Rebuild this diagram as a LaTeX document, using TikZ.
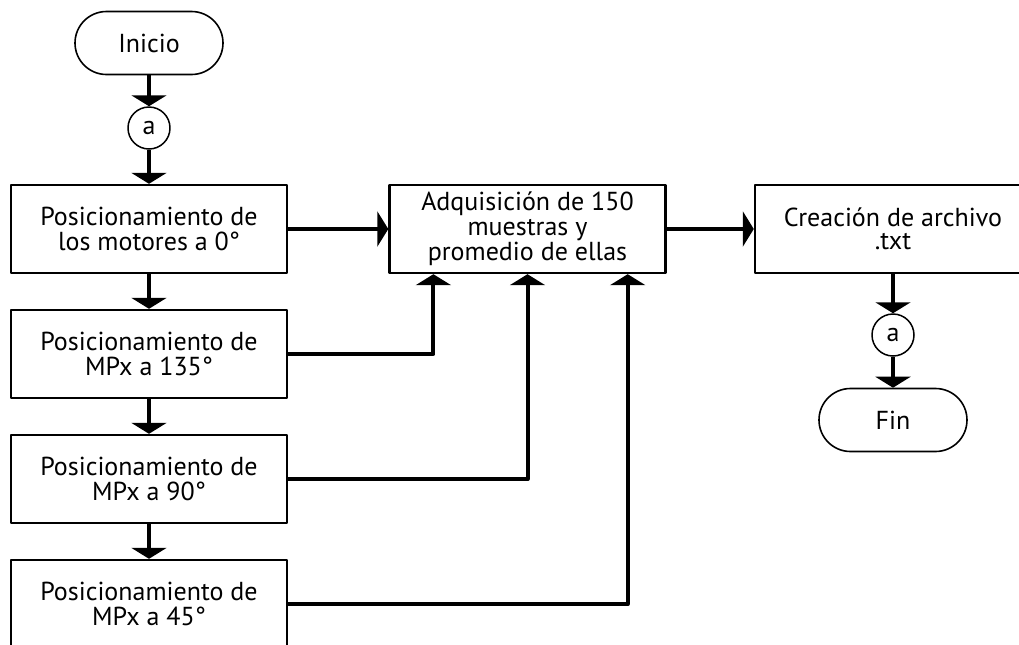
\documentclass[tikz,border=0pt]{standalone}
\usepackage{fontspec}
\setmainfont{PT Sans}
\usetikzlibrary{arrows.meta,calc}
\begin{document}
\begin{tikzpicture}[x=0.5pt,y=-0.5pt,>={Triangle[width=17.5pt,length=5.5pt]},line join=round,
		font=\fontsize{13}{12.5}\selectfont,
		caja/.style={draw,line width=1.2pt,minimum width=138pt,minimum height=44pt,align=center,inner sep=2pt},
		terminal/.style={draw,line width=0.8pt,rounded corners=15.75pt,minimum width=74pt,minimum height=31.5pt},
		conector/.style={draw,circle,line width=0.75pt,minimum size=21pt,inner sep=0pt},
		flecha/.style={->,line width=2pt}]
	\useasboundingbox (0,0) rectangle (1019,644);
	\node[terminal] (inicio) at (149,43) {Inicio};
	\node[conector] (a1) at (149,128) {a};
	\node[caja] (b1) at (149,229) {Posicionamiento de\\los motores a 0°};
	\node[caja] (b2) at (149,354) {Posicionamiento de\\MPx a 135°};
	\node[caja] (b3) at (149,479) {Posicionamiento de\\MPx a 90°};
	\node[caja] (b4) at (149,604) {Posicionamiento de\\MPx a 45°};
	\node[caja] (adq) at (527.5,229) {Adquisición de 150\\muestras y\\promedio de ellas};
	\node[caja,font=\fontsize{13}{11.5}\selectfont] (arch) at (893,229) {Creación de archivo\\.txt};
	\node[conector] (a2) at (893,335) {a};
	\node[terminal] (fin) at (893,420) {Fin};
	% flujo vertical
	\draw[flecha] (inicio) -- (a1);
	\draw[flecha] (a1) -- (b1);
	\draw[flecha] (b1) -- (b2);
	\draw[flecha] (b2) -- (b3);
	\draw[flecha] (b3) -- (b4);
	\draw[flecha] (arch) -- (a2);
	\draw[flecha] (a2) -- (fin);
	% hacia la adquisicion
	\draw[flecha] (b1) -- (adq);
	\draw[flecha] (adq) -- (arch);
	\draw[flecha] (b2.east) -| ($(adq.south west)!0.162!(adq.south east)$);
	\draw[flecha] (b3.east) -| (adq.south);
	\draw[flecha] (b4.east) -| ($(adq.south west)!0.86!(adq.south east)$);
\end{tikzpicture}
\end{document}
